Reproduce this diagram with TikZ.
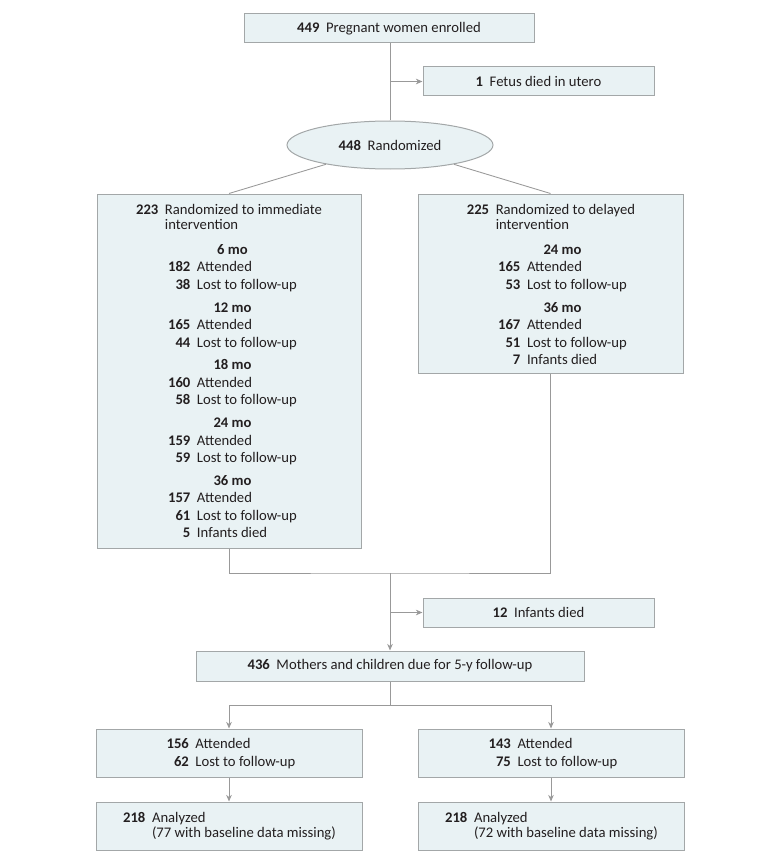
\documentclass[tikz,border=0pt]{standalone}
\usepackage{fontspec}
\setmainfont{Carlito}
\usepackage{tikz}
\usetikzlibrary{arrows.meta,shapes.geometric}
\definecolor{cFill}{HTML}{E9F2F4}
\definecolor{cEdge}{HTML}{A3A7A8}
\definecolor{cLine}{HTML}{999999}
\definecolor{cTxt}{HTML}{231F20}
\tikzset{
  box/.style={draw=cEdge, fill=cFill, line width=0.75pt, rectangle, inner sep=0pt},
  oval/.style={draw=cEdge, fill=cFill, line width=0.75pt, ellipse, inner sep=0pt},
  txt/.style={inner sep=0pt, text=cTxt, font=\fontsize{11}{13.1}\selectfont},
  ln/.style={draw=cLine, line width=0.65pt},
  arr/.style={ln, -{Stealth[length=5pt, width=4.2pt]}},
}
\newcommand{\nb}[1]{\textbf{#1}\hspace{0.45em}}

\begin{document}
\begin{tikzpicture}[x=0.75pt, y=-0.75pt]
\useasboundingbox (0,0) rectangle (780,863);
\node[box, minimum width=217.5pt, minimum height=21.75pt, txt] (enroll) at (389,28.5) {\nb{449}Pregnant women enrolled};
\node[box, minimum width=173.25pt, minimum height=21.75pt, txt] (fetus) at (538.5,81.5) {\nb{1}Fetus died in utero};
\node[oval, minimum width=154.5pt, minimum height=36pt, txt] (rand) at (390,145) {\nb{448}Randomized};
\node[box, minimum width=198pt, minimum height=265.5pt] (imm) at (229,371) {};
\node[box, minimum width=198.75pt, minimum height=134.25pt] (del) at (550.5,283.5) {};
\node[box, minimum width=173.25pt, minimum height=21.75pt, txt] (died) at (538.5,612.5) {\nb{12}Infants died};
\node[box, minimum width=291pt, minimum height=22.5pt, txt] (due) at (390,666) {\nb{436}Mothers and children due for 5-y follow-up};
\node[box, minimum width=199.5pt, minimum height=36pt] (attL) at (229,753) {};
\node[box, minimum width=199.5pt, minimum height=36pt] (attR) at (551,753) {};
\node[box, minimum width=199.5pt, minimum height=36pt] (anaL) at (229,826) {};
\node[box, minimum width=199.5pt, minimum height=36pt] (anaR) at (551,826) {};

\node[txt, anchor=north, font=\fontsize{11}{11.25}\selectfont] (immHd) at (229,204) {\begin{tabular}{@{}r@{\hspace{0.45em}}l@{}}
  \textbf{223} & Randomized to immediate\\ & intervention\end{tabular}};
\node[txt, anchor=north] (immFu) at (232.5,242) {\begin{tabular}{@{}r@{\hspace{0.45em}}l@{}}
  \multicolumn{2}{c}{\textbf{6 mo}}\\ \textbf{182} & Attended\\ \textbf{38} & Lost to follow-up\\[4pt]
  \multicolumn{2}{c}{\textbf{12 mo}}\\ \textbf{165} & Attended\\ \textbf{44} & Lost to follow-up\\[4pt]
  \multicolumn{2}{c}{\textbf{18 mo}}\\ \textbf{160} & Attended\\ \textbf{58} & Lost to follow-up\\[4pt]
  \multicolumn{2}{c}{\textbf{24 mo}}\\ \textbf{159} & Attended\\ \textbf{59} & Lost to follow-up\\[4pt]
  \multicolumn{2}{c}{\textbf{36 mo}}\\ \textbf{157} & Attended\\ \textbf{61} & Lost to follow-up\\
  \textbf{5} & Infants died\end{tabular}};
\node[txt, anchor=north, font=\fontsize{11}{11.25}\selectfont] (delHd) at (551,204) {\begin{tabular}{@{}r@{\hspace{0.45em}}l@{}}
  \textbf{225} & Randomized to delayed\\ & intervention\end{tabular}};
\node[txt, anchor=north] (delFu) at (562.5,242) {\begin{tabular}{@{}r@{\hspace{0.45em}}l@{}}
  \multicolumn{2}{c}{\textbf{24 mo}}\\ \textbf{165} & Attended\\ \textbf{53} & Lost to follow-up\\[4pt]
  \multicolumn{2}{c}{\textbf{36 mo}}\\ \textbf{167} & Attended\\ \textbf{51} & Lost to follow-up\\
  \textbf{7} & Infants died\end{tabular}};
\node[txt, font=\fontsize{11}{13.5}\selectfont] (attLt) at (231,754) {\begin{tabular}{@{}r@{\hspace{0.45em}}l@{}}
  \textbf{156} & Attended\\ \textbf{62} & Lost to follow-up\end{tabular}};
\node[txt, font=\fontsize{11}{13.5}\selectfont] (attRt) at (553,754) {\begin{tabular}{@{}r@{\hspace{0.45em}}l@{}}
  \textbf{143} & Attended\\ \textbf{75} & Lost to follow-up\end{tabular}};
\node[txt, font=\fontsize{11}{11.25}\selectfont] (anaLt) at (229.5,827) {\begin{tabular}{@{}r@{\hspace{0.45em}}l@{}}
  \textbf{218} & Analyzed\\ & (77 with baseline data missing)\end{tabular}};
\node[txt, font=\fontsize{11}{11.25}\selectfont] (anaRt) at (551.5,827) {\begin{tabular}{@{}r@{\hspace{0.45em}}l@{}}
  \textbf{218} & Analyzed\\ & (72 with baseline data missing)\end{tabular}};

\coordinate (brA) at (390,81.5);
\coordinate (join) at (390,573);
\coordinate (brB) at (390,612.5);
\coordinate (split) at (390,705);
\draw[ln] (enroll.south -| rand.north) -- (rand.north);
\draw[arr] (brA) -- (fetus.west);
\draw[ln] (rand) -- (imm.north);
\draw[ln] (rand) -- (del.north);
\draw[ln] (imm.south) |- (join) -| (del.south);
\draw[arr] (join) -- (due.north);
\draw[arr] (brB) -- (died.west);
\draw[ln] (due.south) -- (split);
\draw[arr] (split) -| (attL.north);
\draw[arr] (split) -| (attR.north);
\draw[arr] (attL) -- (anaL);
\draw[arr] (attR) -- (anaR);
\end{tikzpicture}
\end{document}
